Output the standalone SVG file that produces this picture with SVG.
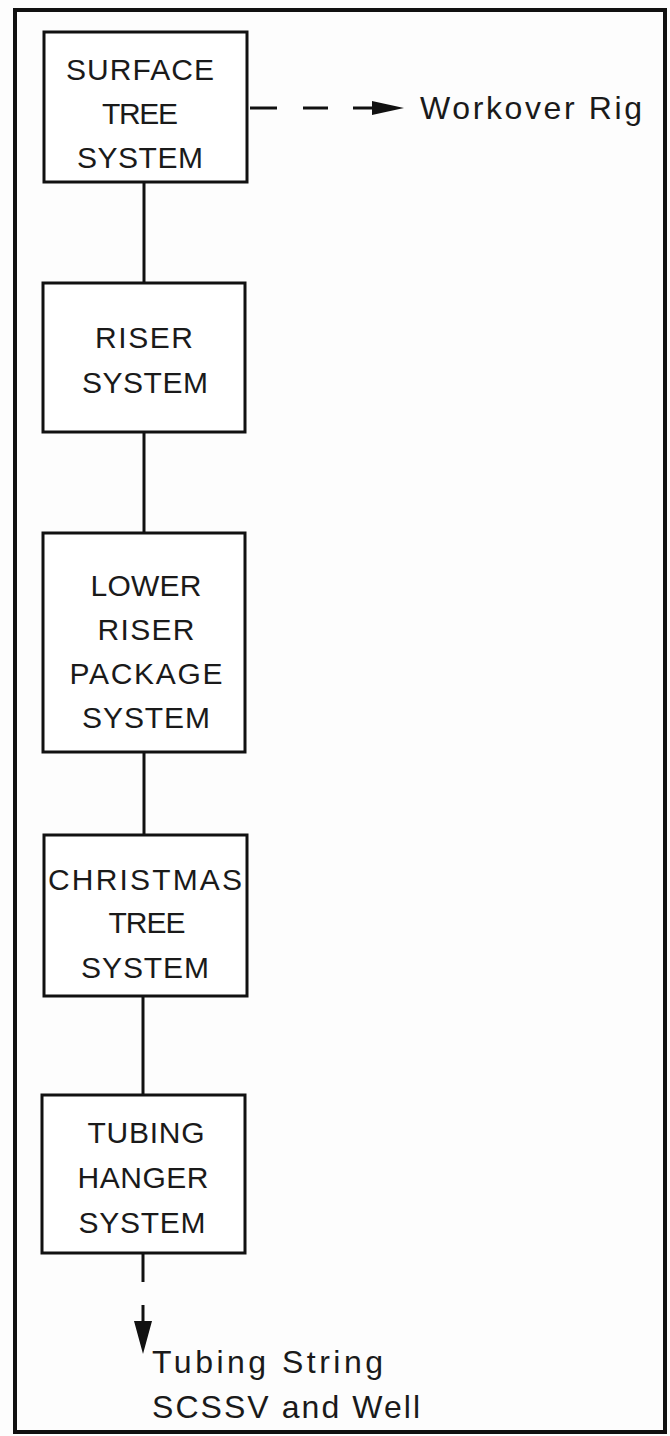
<svg xmlns="http://www.w3.org/2000/svg" width="670" height="1436" viewBox="0 0 670 1436">
<defs>
<style>
.box{fill:#ffffff;stroke:#111;stroke-width:3}
.frame{fill:none;stroke:#111;stroke-width:4}
.con{stroke:#111;stroke-width:3;fill:none}
.t{font-family:"Liberation Sans","DejaVu Sans",sans-serif;font-size:30px;fill:#1a1a1a;text-anchor:middle}
.l{font-family:"Liberation Sans","DejaVu Sans",sans-serif;font-size:32px;fill:#1a1a1a}
</style>
</defs>
<rect width="670" height="1436" fill="#fdfdfd"/>
<rect class="frame" x="15" y="10" width="650" height="1422"/>
<g id="connectors">
<line class="con" x1="144" y1="182" x2="144" y2="283"/>
<line class="con" x1="144" y1="432" x2="144" y2="533"/>
<line class="con" x1="144" y1="752" x2="144" y2="835"/>
<line class="con" x1="143" y1="996" x2="143" y2="1095"/>
<line class="con" x1="250" y1="108" x2="277" y2="108"/>
<line class="con" x1="303" y1="108" x2="328" y2="108"/>
<line class="con" x1="353" y1="108" x2="375" y2="108"/>
<polygon points="372,101 404,108 372,115" fill="#111"/>
<line class="con" x1="143" y1="1253" x2="143" y2="1282"/>
<line class="con" x1="143" y1="1305" x2="143" y2="1324"/>
<polygon points="134,1321 152,1321 143,1354" fill="#111"/>
</g>
<g id="surface-tree">
<rect class="box" x="44" y="32" width="203" height="150"/>
<text class="t" x="140" y="80" textLength="148">SURFACE</text>
<text class="t" x="140" y="124" textLength="76">TREE</text>
<text class="t" x="140" y="168" textLength="126">SYSTEM</text>
</g>
<g id="riser">
<rect class="box" x="43" y="283" width="202" height="149"/>
<text class="t" x="144" y="348" textLength="98">RISER</text>
<text class="t" x="145" y="393" textLength="126">SYSTEM</text>
</g>
<g id="lower-riser">
<rect class="box" x="43" y="533" width="202" height="219"/>
<text class="t" x="146" y="596" textLength="111">LOWER</text>
<text class="t" x="146" y="640" textLength="97">RISER</text>
<text class="t" x="146" y="684" textLength="153">PACKAGE</text>
<text class="t" x="146" y="728" textLength="128">SYSTEM</text>
</g>
<g id="christmas-tree">
<rect class="box" x="44" y="835" width="203" height="161"/>
<text class="t" x="145" y="890" textLength="194">CHRISTMAS</text>
<text class="t" x="147" y="933" textLength="77">TREE</text>
<text class="t" x="145" y="978" textLength="128">SYSTEM</text>
</g>
<g id="tubing-hanger">
<rect class="box" x="42" y="1095" width="203" height="158"/>
<text class="t" x="146" y="1143" textLength="117">TUBING</text>
<text class="t" x="143" y="1188" textLength="131">HANGER</text>
<text class="t" x="142" y="1233" textLength="127">SYSTEM</text>
</g>
<g id="workover-rig">
<text class="l" x="420" y="119" textLength="222">Workover Rig</text>
</g>
<g id="tubing-string">
<text class="l" x="152" y="1373" textLength="231">Tubing String</text>
<text class="l" x="152" y="1418" textLength="268">SCSSV and Well</text>
</g>
</svg>
